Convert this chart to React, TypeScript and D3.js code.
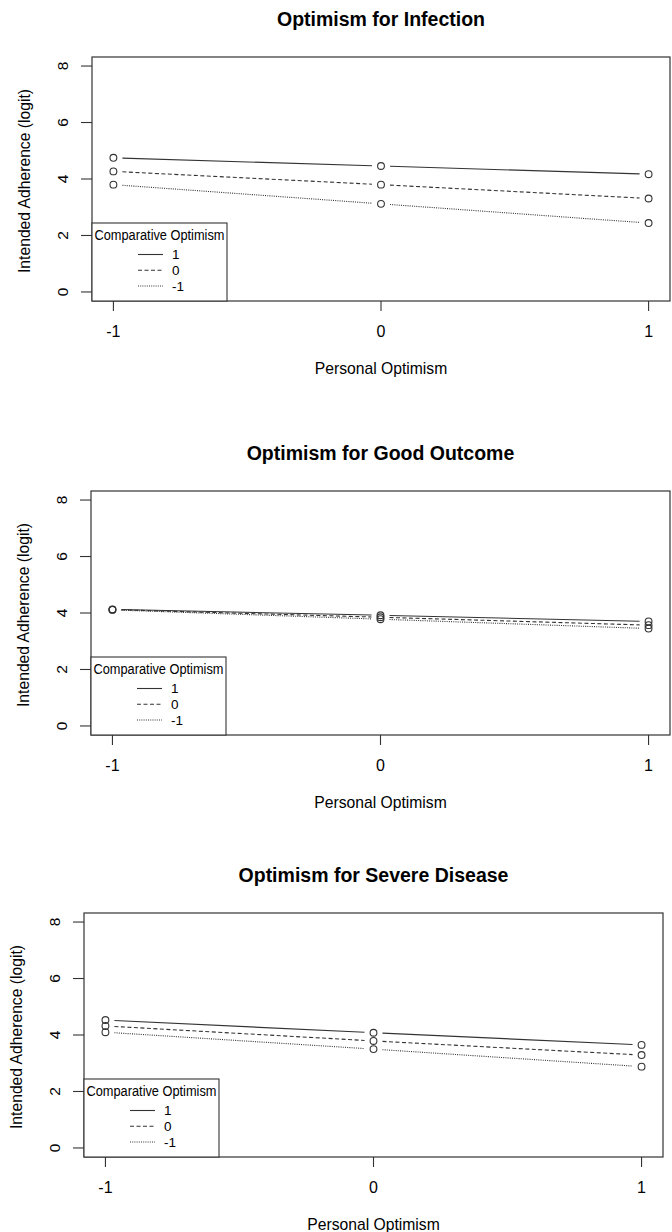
import React from 'react';
import * as d3 from 'd3';

// Personal optimism levels (x) and comparative optimism groups (lines)
const xLevels = [-1, 0, 1];
const yTicks = [0, 2, 4, 6, 8];
const groupLabels = ['1', '0', '-1'];

// Intended adherence (logit) at personal optimism -1, 0, 1
const infectionCO1 = [4.75, 4.46, 4.17];
const infectionCO0 = [4.27, 3.8, 3.31];
const infectionCOm1 = [3.8, 3.12, 2.44];

const goodOutcomeCO1 = [4.13, 3.92, 3.7];
const goodOutcomeCO0 = [4.12, 3.85, 3.57];
const goodOutcomeCOm1 = [4.11, 3.78, 3.45];

const severeCO1 = [4.53, 4.08, 3.65];
const severeCO0 = [4.32, 3.79, 3.29];
const severeCOm1 = [4.1, 3.5, 2.88];

const titles = ['Optimism for Infection', 'Optimism for Good Outcome', 'Optimism for Severe Disease'];
const xLabel = 'Personal Optimism';
const yLabel = 'Intended Adherence (logit)';
const legendTitle = 'Comparative Optimism';

const panelSeries = [
  [infectionCO1, infectionCO0, infectionCOm1],
  [goodOutcomeCO1, goodOutcomeCO0, goodOutcomeCOm1],
  [severeCO1, severeCO0, severeCOm1],
];

// plot box of each panel (pixels)
const boxes = [
  { left: 92, right: 670, top: 57, bottom: 301 },
  { left: 91, right: 670, top: 491, bottom: 735 },
  { left: 84, right: 663, top: 913, bottom: 1157 },
];

const dashes = [null, '4,2.5', '1,1.2'];
const ink = '#333';
const font = '"Liberation Sans", Arial, sans-serif';

const Panel = ({ idx }) => {
  const b = boxes[idx];
  const series = panelSeries[idx];
  // R style 4% axis extension
  const x = d3.scaleLinear().domain([-1.08, 1.08]).range([b.left, b.right]);
  const y = d3.scaleLinear().domain([-0.32, 8.32]).range([b.bottom, b.top]);
  const cx = (b.left + b.right) / 2;
  const cy = (b.top + b.bottom) / 2;
  const gap = 9;

  // type = "b": segments leave a gap around each point
  const segments = [];
  series.forEach((vals, s) => {
    for (let i = 0; i < vals.length - 1; i++) {
      const x1 = x(xLevels[i]), y1 = y(vals[i]);
      const x2 = x(xLevels[i + 1]), y2 = y(vals[i + 1]);
      const len = Math.hypot(x2 - x1, y2 - y1);
      const ux = (x2 - x1) / len, uy = (y2 - y1) / len;
      segments.push(
        <line key={`s${s}-${i}`} x1={x1 + ux * gap} y1={y1 + uy * gap} x2={x2 - ux * gap} y2={y2 - uy * gap}
          stroke={ink} strokeWidth={1.1} strokeDasharray={dashes[s] || undefined} />
      );
    }
  });

  const lgTop = b.bottom - 78;
  const lgRows = [31.5, 47.3, 63];

  return (
    <g fontFamily={font} fill="#000">
      <text x={cx} y={b.top - 31} textAnchor="middle" fontWeight="bold" fontSize={19.5}>{titles[idx]}</text>
      <rect x={b.left} y={b.top} width={b.right - b.left} height={b.bottom - b.top} fill="none" stroke={ink} strokeWidth={1.2} />

      {/* y axis */}
      {yTicks.map((t) => (
        <g key={`y${t}`}>
          <line x1={b.left - 11} x2={b.left} y1={y(t)} y2={y(t)} stroke={ink} strokeWidth={1.1} />
          <text transform={`translate(${b.left - 24},${y(t)}) rotate(-90)`} textAnchor="middle" fontSize={15.5}>{t}</text>
        </g>
      ))}
      <text transform={`translate(${b.left - 62},${cy + 2}) rotate(-90)`} textAnchor="middle" fontSize={15.7}>{yLabel}</text>

      {/* x axis */}
      {xLevels.map((t) => (
        <g key={`x${t}`}>
          <line x1={x(t)} x2={x(t)} y1={b.bottom} y2={b.bottom + 10} stroke={ink} strokeWidth={1.1} />
          <text x={x(t)} y={b.bottom + 36} textAnchor="middle" fontSize={16}>{t}</text>
        </g>
      ))}
      <text x={cx} y={b.bottom + 73} textAnchor="middle" fontSize={15.7}>{xLabel}</text>

      {segments}
      {series.map((vals, s) =>
        vals.map((v, i) => (
          <circle key={`c${s}-${i}`} cx={x(xLevels[i])} cy={y(v)} r={3.4} fill="none" stroke={ink} strokeWidth={1.1} />
        ))
      )}

      {/* legend */}
      <rect x={b.left} y={lgTop} width={135} height={b.bottom - lgTop} fill="#fff" stroke={ink} strokeWidth={1.1} />
      <text x={b.left + 67.5} y={lgTop + 16.5} textAnchor="middle" fontSize={14} textLength={130} lengthAdjust="spacingAndGlyphs">{legendTitle}</text>
      {groupLabels.map((g, s) => (
        <g key={`lg${g}`}>
          <line x1={b.left + 46} x2={b.left + 71} y1={lgTop + lgRows[s]} y2={lgTop + lgRows[s]} stroke={ink} strokeWidth={1.1} strokeDasharray={dashes[s] || undefined} />
          <text x={b.left + 80} y={lgTop + lgRows[s] + 4.8} fontSize={13.5}>{g}</text>
        </g>
      ))}
    </g>
  );
};

export default function App() {
  return (
    <svg width={672} height={1232} style={{ position: 'absolute', left: 0, top: 0, background: '#fff' }}>
      {boxes.map((_, i) => <Panel key={i} idx={i} />)}
    </svg>
  );
}
